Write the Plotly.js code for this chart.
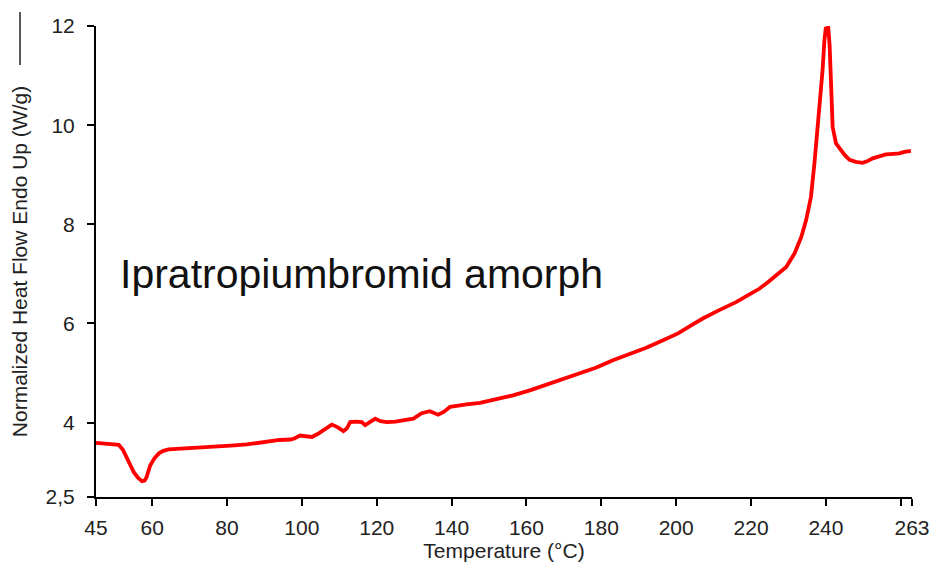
<!DOCTYPE html>
<html>
<head>
<meta charset="utf-8">
<script src="https://cdn.plot.ly/plotly-3.0.1.min.js"></script>
<style>html,body{margin:0;padding:0;background:#fff;}#chart{width:932px;height:564px;}</style>
</head>
<body>
<div id="chart"></div>
<script>
const temperature = [45.0,47.0,48.4,50.0,51.1,52.2,53.3,54.2,55.1,56.2,57.3,58.0,58.5,59.5,60.6,61.8,63.0,64.4,67.0,71.1,75.0,78.2,82.0,85.3,88.0,91.5,94.0,96.9,98.0,99.5,101.0,102.7,104.2,105.8,107.0,108.0,109.5,111.1,112.0,112.9,114.5,116.0,116.9,118.3,119.6,121.0,122.7,125.0,127.5,129.8,132.0,134.2,136.4,138.0,139.6,142.0,144.0,147.6,152.0,156.4,160.9,165.4,169.8,174.2,178.7,183.1,187.6,192.0,196.5,200.5,204.0,207.1,211.5,216.0,219.0,222.2,224.5,226.7,229.4,231.6,233.4,234.7,236.0,236.9,237.8,238.4,239.1,239.6,240.0,240.3,240.6,241.0,241.4,241.8,242.7,244.0,245.0,246.3,248.0,249.8,251.0,252.5,254.0,256.0,258.0,259.6,261.0,262.7];
const heatFlow = [3.59,3.58,3.56,3.56,3.55,3.45,3.27,3.12,3.00,2.89,2.82,2.83,2.90,3.14,3.28,3.38,3.43,3.46,3.47,3.48,3.50,3.52,3.54,3.56,3.59,3.63,3.65,3.66,3.68,3.74,3.73,3.71,3.77,3.85,3.92,3.96,3.91,3.83,3.88,4.01,4.02,4.01,3.95,4.02,4.08,4.03,4.01,4.02,4.05,4.08,4.19,4.23,4.16,4.22,4.32,4.35,4.37,4.40,4.47,4.55,4.65,4.77,4.87,4.99,5.11,5.26,5.38,5.51,5.66,5.80,5.96,6.10,6.27,6.43,6.56,6.70,6.83,6.97,7.14,7.41,7.74,8.08,8.55,9.20,9.90,10.40,11.10,11.71,11.98,11.80,12.00,11.60,10.70,9.96,9.63,9.49,9.40,9.30,9.26,9.24,9.27,9.33,9.37,9.41,9.42,9.43,9.46,9.48];
const xTickVals = [45,60,80,100,120,140,160,180,200,220,240,260,263];
const xTickText = ["45","60","80","100","120","140","160","180","200","220","240","","263"];
const yTickVals = [2.5,4,6,8,10,12];
const yTickText = ["2,5","4","6","8","10","12"];

const font = "Liberation Sans, Arial, sans-serif";
const trace = {
  x: temperature, y: heatFlow, type: "scatter", mode: "lines",
  line: {color: "#ff0000", width: 3.8}, hoverinfo: "skip", showlegend: false
};
const layout = {
  width: 932, height: 564,
  margin: {l: 96, r: 20, t: 26, b: 67},
  paper_bgcolor: "#ffffff", plot_bgcolor: "#ffffff",
  font: {family: font, color: "#000", size: 21},
  xaxis: {
    range: [45, 263], tickmode: "array", tickvals: xTickVals, ticktext: xTickText,
    showgrid: false, zeroline: false, showline: true, linecolor: "#000", linewidth: 2,
    ticks: "outside", ticklen: 7, tickwidth: 2, tickcolor: "#000",
    ticklabelstandoff: 4,
    tickfont: {size: 21, color: "#222"},
    title: {text: "Temperature (°C)", font: {size: 21, color: "#222"}, standoff: 5},
    automargin: false
  },
  yaxis: {
    range: [2.5, 12], tickmode: "array", tickvals: yTickVals, ticktext: yTickText,
    showgrid: false, zeroline: false, showline: true, linecolor: "#000", linewidth: 2,
    ticks: "outside", ticklen: 7, tickwidth: 2, tickcolor: "#000",
    ticklabelstandoff: 8,
    tickfont: {size: 21, color: "#222"},
    title: {text: "Normalized Heat Flow Endo Up (W/g)", font: {size: 21, color: "#222"}, standoff: 12},
    automargin: false
  },
  shapes: [{
    type: "line", xref: "paper", yref: "paper",
    x0: -0.0931, x1: -0.0931, y0: 0.917, y1: 1.0297,
    line: {color: "#222", width: 1.5}
  }],
  annotations: [{
    text: "Ipratropiumbromid amorph", xref: "x", yref: "y",
    x: 50.9, y: 7.0, xanchor: "left", yanchor: "middle", showarrow: false,
    font: {size: 41, color: "#111", family: font}
  }]
};
Plotly.newPlot("chart", [trace], layout, {displayModeBar: false, staticPlot: true});
</script>
</body>
</html>
